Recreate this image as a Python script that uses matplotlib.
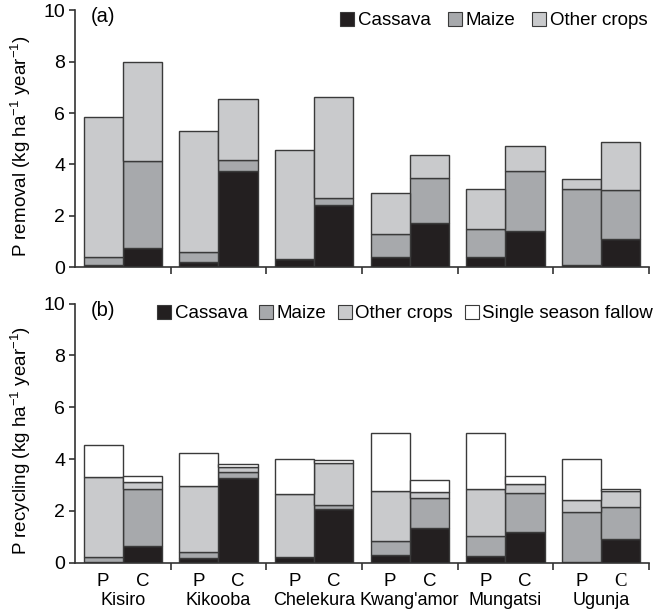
import numpy as np
import matplotlib
matplotlib.use('Agg')
import matplotlib.pyplot as plt
from matplotlib.lines import Line2D
from matplotlib.transforms import blended_transform_factory

plt.rcParams['font.family'] = ['Liberation Sans', 'DejaVu Sans']
plt.rcParams['mathtext.fontset'] = 'custom'
plt.rcParams['mathtext.rm'] = 'Liberation Sans'
plt.rcParams['mathtext.default'] = 'regular'

sites = ['Kisiro', 'Kikooba', 'Chelekura', "Kwang'amor", 'Mungatsi', 'Ugunja']
systems = ['P', 'C']

# (a) P removal, kg/ha/yr -- order per site: P then C
rem_cassava = [0.08, 0.75, 0.20, 3.74, 0.30, 2.43, 0.40, 1.70, 0.39, 1.41, 0.08, 1.08]
rem_maize   = [0.30, 3.37, 0.40, 0.42, 0.00, 0.25, 0.87, 1.76, 1.10, 2.32, 2.96, 1.91]
rem_other   = [5.48, 3.88, 4.71, 2.40, 4.25, 3.94, 1.63, 0.90, 1.56, 0.99, 0.40, 1.89]

# (b) P recycling, kg/ha/yr
rec_cassava = [0.03, 0.64, 0.19, 3.27, 0.21, 2.06, 0.30, 1.35, 0.27, 1.20, 0.03, 0.90]
rec_maize   = [0.20, 2.22, 0.23, 0.22, 0.00, 0.18, 0.55, 1.14, 0.75, 1.50, 1.94, 1.24]
rec_other   = [3.07, 0.24, 2.54, 0.20, 2.44, 1.62, 1.93, 0.25, 1.81, 0.35, 0.46, 0.62]
rec_fallow  = [1.26, 0.26, 1.29, 0.11, 1.34, 0.09, 2.24, 0.44, 2.19, 0.31, 1.56, 0.10]

colors = {'Cassava': '#231f20', 'Maize': '#a7a9ac', 'Other crops': '#c9cacc',
          'Single season fallow': '#ffffff'}
edge = '#3a3a3a'
w = 0.41

fig = plt.figure(figsize=(6.68, 6.13), dpi=100)
ax1 = fig.add_axes([0.1123, 0.5644, 0.859, 0.4186])
ax2 = fig.add_axes([0.1123, 0.0821, 0.859, 0.4225])

centers = np.arange(len(sites)) + 0.5
xpos = np.ravel(np.column_stack([centers - w / 2, centers + w / 2]))


def stack(ax, layers, names):
    bottom = np.zeros(len(xpos))
    for vals, name in zip(layers, names):
        vals = np.array(vals)
        ax.bar(xpos, vals, w, bottom=bottom, color=colors[name],
               edgecolor=edge, linewidth=1.0)
        bottom += vals


stack(ax1, [rem_cassava, rem_maize, rem_other], ['Cassava', 'Maize', 'Other crops'])
stack(ax2, [rec_cassava, rec_maize, rec_other, rec_fallow],
      ['Cassava', 'Maize', 'Other crops', 'Single season fallow'])

for ax, lab, ylab in [(ax1, '(a)', 'P removal (kg ha$^{-1}$ year$^{-1}$)'),
                      (ax2, '(b)', 'P recycling (kg ha$^{-1}$ year$^{-1}$)')]:
    ax.set_xlim(0, 6)
    ax.set_ylim(0, 10)
    ax.set_yticks([0, 2, 4, 6, 8, 10])
    ax.set_xticks(np.arange(1, 7))
    ax.set_xticklabels([])
    ax.tick_params(axis='x', direction='out', length=5, width=1.2, color='#333333')
    ax.tick_params(axis='y', direction='out', length=4, width=1.2, color='#333333',
                   labelsize=14, pad=3)
    for s in ['top', 'right']:
        ax.spines[s].set_visible(False)
    for s in ['left', 'bottom']:
        ax.spines[s].set_linewidth(1.2)
        ax.spines[s].set_color('#333333')
    ax.set_ylabel(ylab, fontsize=13.5)
    ax.yaxis.set_label_coords(-0.074, 0.47)
    ax.text(0.028, 0.975, lab, transform=ax.transAxes, fontsize=14.5,
            ha='left', va='center')

# legends made of square markers
def handles(names):
    return [Line2D([], [], marker='s', linestyle='none', markersize=10,
                   markerfacecolor=colors[n], markeredgecolor=edge,
                   markeredgewidth=0.8) for n in names]

n1 = ['Cassava', 'Maize', 'Other crops']
ax1.legend(handles(n1), n1, loc='upper right', bbox_to_anchor=(1.02, 1.045),
           ncol=3, frameon=False, fontsize=13.5, handlelength=0.8,
           handletextpad=0.15, columnspacing=0.9, borderpad=0.2)
n2 = ['Cassava', 'Maize', 'Other crops', 'Single season fallow']
ax2.legend(handles(n2), n2, loc='upper right', bbox_to_anchor=(1.03, 1.045),
           ncol=4, frameon=False, fontsize=13.5, handlelength=0.8,
           handletextpad=0.15, columnspacing=0.6, borderpad=0.2)

# P / C and site names under panel (b)
tr = blended_transform_factory(ax2.transData, ax2.transAxes)
for i, c in enumerate(centers):
    for j, sysname in enumerate(systems):
        fam = ['Liberation Serif'] if (sites[i] == 'Ugunja' and sysname == 'C') else ['Liberation Sans']
        ax2.text(c + (j - 0.5) * w, -0.074, sysname, transform=tr, ha='center',
                 va='center', fontsize=13.5, family=fam)
    ax2.text(c, -0.145, sites[i], transform=tr, ha='center', va='center',
             fontsize=13)

fig.savefig('out.png', dpi=100)
